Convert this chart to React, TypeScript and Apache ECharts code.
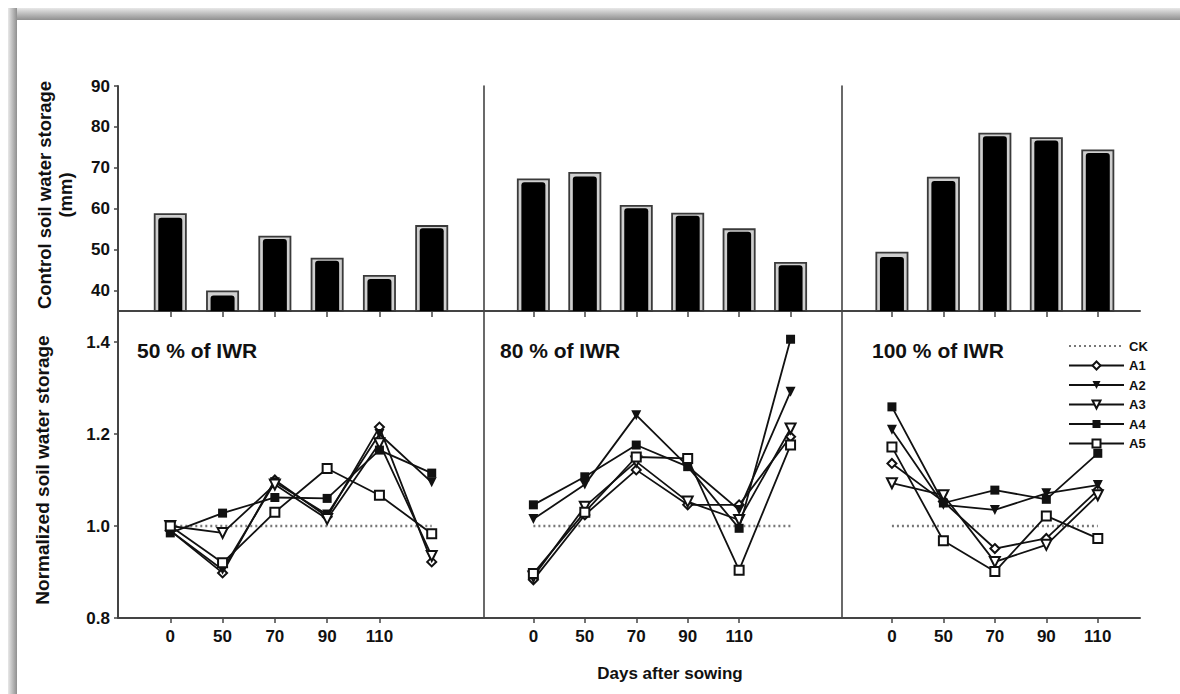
import React, { useEffect, useRef } from 'react';
import * as echarts from 'echarts';

// ---------- data ----------
const days = ['0', '50', '70', '90', '110', ''];
const panelTitles = ['50 % of IWR', '80 % of IWR', '100 % of IWR'];
const seriesNames = ['CK', 'A1', 'A2', 'A3', 'A4', 'A5'];

// Control soil water storage (mm): bar value and upper frame value
const ctrl50 = [57.8, 38.8, 52.6, 47.3, 42.8, 55.2];
const ctrl50Upper = [58.9, 40.0, 53.4, 48.0, 43.8, 56.0];
const ctrl80 = [66.5, 67.9, 60.1, 58.3, 54.4, 46.2];
const ctrl80Upper = [67.4, 69.0, 60.9, 59.0, 55.2, 47.0];
const ctrl100 = [48.2, 66.8, 77.7, 76.7, 73.6];
const ctrl100Upper = [49.5, 67.8, 78.6, 77.5, 74.5];

// Normalized soil water storage
const ck50 = [1.0, 1.0, 1.0, 1.0, 1.0, 1.0];
const a1_50 = [0.99, 0.898, 1.1, 1.02, 1.215, 0.922];
const a2_50 = [0.99, 0.905, 1.095, 1.025, 1.2, 1.095];
const a3_50 = [1.0, 0.985, 1.09, 1.015, 1.18, 0.935];
const a4_50 = [0.985, 1.028, 1.062, 1.06, 1.165, 1.115];
const a5_50 = [1.0, 0.92, 1.03, 1.125, 1.067, 0.983];

const ck80 = [1.0, 1.0, 1.0, 1.0, 1.0, 1.0];
const a1_80 = [0.883, 1.024, 1.122, 1.046, 1.046, 1.194];
const a2_80 = [1.015, 1.09, 1.241, 1.13, 1.035, 1.292];
const a3_80 = [0.89, 1.042, 1.14, 1.053, 1.013, 1.212];
const a4_80 = [1.046, 1.107, 1.176, 1.129, 0.995, 1.406];
const a5_80 = [0.897, 1.03, 1.15, 1.147, 0.904, 1.176];

const ck100 = [1.0, 1.0, 1.0, 1.0, 1.0];
const a1_100 = [1.136, 1.053, 0.951, 0.973, 1.078];
const a2_100 = [1.209, 1.046, 1.035, 1.071, 1.089];
const a3_100 = [1.093, 1.067, 0.922, 0.959, 1.067];
const a4_100 = [1.259, 1.05, 1.078, 1.058, 1.158];
const a5_100 = [1.172, 0.968, 0.901, 1.022, 0.973];

const topTicks = [40, 50, 60, 70, 80, 90];
const bottomTicks = [0.8, 1.0, 1.2, 1.4];

// ---------- layout ----------
const FONT = "'Liberation Sans', Arial, sans-serif";
const TXT = '#111';
const panelLeft = [118, 484, 842];
const panelWidth = [366, 358, 298];
const xMin = [0, 0.04, 0.03];
const xMax = [7, 7, 5.82];
const topTop = 86;
const topHeight = 225;
const botTop = 311;
const botHeight = 307;

const ctrlData = [ctrl50, ctrl80, ctrl100];
const ctrlUpper = [ctrl50Upper, ctrl80Upper, ctrl100Upper];
const normData = [
  [ck50, a1_50, a2_50, a3_50, a4_50, a5_50],
  [ck80, a1_80, a2_80, a3_80, a4_80, a5_80],
  [ck100, a1_100, a2_100, a3_100, a4_100, a5_100],
];

const symbols: any[] = [
  { symbol: 'circle', rotate: 0, size: 0 },
  { symbol: 'emptyDiamond', rotate: 0, size: 9 },
  { symbol: 'triangle', rotate: 180, size: 10 },
  { symbol: 'emptyTriangle', rotate: 180, size: 10 },
  { symbol: 'rect', rotate: 0, size: 9 },
  { symbol: 'emptyRect', rotate: 0, size: 9 },
];

function buildOption() {
  const grid: any[] = [];
  const xAxis: any[] = [];
  const yAxis: any[] = [];
  const series: any[] = [];
  const axisLine = { show: true, lineStyle: { color: '#444', width: 2 } };

  for (let p = 0; p < 3; p++) {
    grid.push({ left: panelLeft[p], top: topTop, width: panelWidth[p], height: topHeight });
  }
  for (let p = 0; p < 3; p++) {
    grid.push({ left: panelLeft[p], top: botTop, width: panelWidth[p], height: botHeight });
  }
  // top visible x axes (0..2)
  for (let p = 0; p < 3; p++) {
    const n = ctrlData[p].length;
    xAxis.push({
      type: 'value', gridIndex: p, min: xMin[p], max: xMax[p],
      axisLine, splitLine: { show: false },
      axisTick: { show: true, inside: false, length: 6, lineStyle: { color: '#444', width: 1.5 },
        customValues: ctrlData[p].map((_, i) => i + 1) },
      axisLabel: { show: false, customValues: Array.from({ length: n }, (_, i) => i + 1) },
    });
  }
  // top hidden x axes (3..5)
  for (let p = 0; p < 3; p++) {
    xAxis.push({ type: 'value', gridIndex: p, min: xMin[p], max: xMax[p], show: false });
  }
  // bottom x axes (6..8)
  for (let p = 0; p < 3; p++) {
    const labelVals = days.slice(0, 5).map((_, i) => i + 1);
    xAxis.push({
      type: 'value', gridIndex: 3 + p, min: xMin[p], max: xMax[p],
      axisLine, splitLine: { show: false },
      axisTick: { show: true, length: 5, lineStyle: { color: '#444', width: 1.5 }, customValues: labelVals },
      axisLabel: {
        show: true, customValues: labelVals, margin: 10,
        formatter: (v: number) => days[Math.round(v) - 1] ?? '',
        fontSize: 17, fontWeight: 'bold', fontFamily: FONT, color: TXT,
      },
    });
  }
  // top y axes
  for (let p = 0; p < 3; p++) {
    yAxis.push({
      type: 'value', gridIndex: p, min: 35, max: 90,
      axisLine: { show: true, lineStyle: { color: '#444', width: p === 0 ? 2 : 1.6 } },
      splitLine: { show: false },
      axisTick: { show: p === 0, length: 4, lineStyle: { color: '#444', width: 1.5 }, customValues: topTicks },
      axisLabel: {
        show: p === 0, customValues: topTicks, margin: 8,
        fontSize: 17, fontWeight: 'bold', fontFamily: FONT, color: TXT,
      },
    });
  }
  // bottom y axes
  for (let p = 0; p < 3; p++) {
    yAxis.push({
      type: 'value', gridIndex: 3 + p, min: 0.8, max: 0.8 + botHeight / 460,
      axisLine: { show: true, lineStyle: { color: '#444', width: p === 0 ? 2 : 1.6 } },
      splitLine: { show: false },
      axisTick: { show: p === 0, length: 4, lineStyle: { color: '#444', width: 1.5 }, customValues: bottomTicks },
      axisLabel: {
        show: p === 0, customValues: bottomTicks, margin: 8,
        formatter: (v: number) => v.toFixed(1),
        fontSize: 17, fontWeight: 'bold', fontFamily: FONT, color: TXT,
      },
    });
  }

  // bars
  for (let p = 0; p < 3; p++) {
    series.push({
      type: 'bar', name: 'frame' + p, xAxisIndex: 3 + p, yAxisIndex: p,
      barWidth: 33, clip: true,
      data: ctrlUpper[p].map((v, i) => [i + 1, v]),
      itemStyle: { color: '#cfcfcf', borderColor: '#3a3a3a', borderWidth: 1.8 },
      silent: true,
    });
    series.push({
      type: 'bar', name: 'ctrl' + p, xAxisIndex: p, yAxisIndex: p,
      barWidth: 24, clip: true,
      data: ctrlData[p].map((v, i) => [i + 1, v]),
      itemStyle: { color: '#000', borderRadius: [3, 3, 0, 0] },
      silent: true,
    });
  }

  // lines
  for (let p = 0; p < 3; p++) {
    normData[p].forEach((arr, s) => {
      const isCK = s === 0;
      series.push({
        type: 'line', name: seriesNames[s], xAxisIndex: 6 + p, yAxisIndex: 3 + p,
        data: arr.map((v, i) => [i + 1, v]),
        symbol: symbols[s].symbol,
        symbolRotate: symbols[s].rotate,
        symbolSize: symbols[s].size,
        showSymbol: !isCK,
        z: isCK ? 1 : 3 + s,
        lineStyle: isCK
          ? { color: '#777', width: 2.5, type: [2, 3] }
          : { color: '#111', width: 1.8 },
        itemStyle: isCK ? { color: 'rgba(0,0,0,0)' } : { color: '#111' },
        silent: true,
      });
    });
  }

  const band = (x: number, y: number, w: number, h: number, horiz: boolean) => ({
    type: 'rect', shape: { x, y, width: w, height: h }, silent: true,
    style: {
      fill: new echarts.graphic.LinearGradient(0, 0, horiz ? 1 : 0, horiz ? 0 : 1, [
        { offset: 0, color: '#e8e8e8' },
        { offset: 1, color: '#8f8f8f' },
      ]),
    },
  });

  const graphic: any[] = [
    band(8, 8, 1172, 12, false),
    band(8, 8, 9, 686, true),
    {
      type: 'text', x: 44, y: 195, rotation: Math.PI / 2, silent: true,
      style: { text: 'Control soil water storage', fontSize: 18.5, fontWeight: 'bold', fontFamily: FONT, fill: TXT, align: 'center', verticalAlign: 'middle' },
    },
    {
      type: 'text', x: 65, y: 195, rotation: Math.PI / 2, silent: true,
      style: { text: '(mm)', fontSize: 18.5, fontWeight: 'bold', fontFamily: FONT, fill: TXT, align: 'center', verticalAlign: 'middle' },
    },
    {
      type: 'text', x: 42, y: 470, rotation: Math.PI / 2, silent: true,
      style: { text: 'Normalized soil water storage', fontSize: 19, fontWeight: 'bold', fontFamily: FONT, fill: TXT, align: 'center', verticalAlign: 'middle' },
    },
    {
      type: 'text', x: 670, y: 673, silent: true,
      style: { text: 'Days after sowing', fontSize: 17, fontWeight: 'bold', fontFamily: FONT, fill: TXT, align: 'center', verticalAlign: 'middle' },
    },
  ];
  const titleX = [137, 500, 872];
  for (let p = 0; p < 3; p++) {
    graphic.push({
      type: 'text', x: titleX[p], y: 350, silent: true,
      style: { text: panelTitles[p], fontSize: 21, fontWeight: 'bold', fontFamily: FONT, fill: TXT, align: 'left', verticalAlign: 'middle' },
    });
  }

  return {
    animation: false,
    backgroundColor: '#fff',
    grid, xAxis, yAxis, series, graphic,
    legend: {
      data: seriesNames,
      orient: 'vertical', left: 1063, top: 334,
      itemWidth: 55, itemHeight: 10, itemGap: 5.5,
      selectedMode: false,
      textStyle: { fontSize: 13, fontWeight: 'bold', fontFamily: FONT, color: TXT, lineHeight: 14 },
    },
  };
}

export default function App() {
  const ref = useRef<HTMLDivElement>(null);
  useEffect(() => {
    if (!ref.current) return;
    const chart = echarts.init(ref.current, null, { renderer: 'svg' });
    chart.setOption(buildOption() as any);
    return () => chart.dispose();
  }, []);
  return (
    <div
      ref={ref}
      style={{ position: 'fixed', left: 0, top: 0, width: 1180, height: 694, background: '#fff' }}
    />
  );
}
